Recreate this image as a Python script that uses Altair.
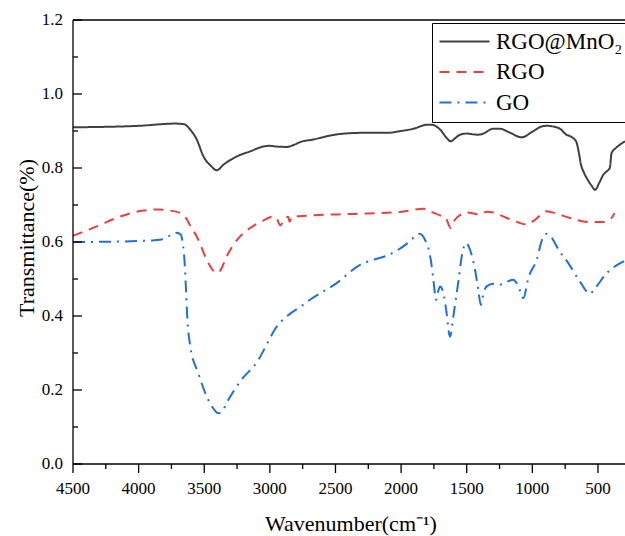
import altair as alt
import pandas as pd

# FTIR spectra: wavenumber (cm^-1) and transmittance for each sample
series_names = ["RGO@MnO₂", "RGO", "GO"]
series_colors = ["#404040", "#f03c3c", "#1f6fe0"]
series_dashes = [[1, 0], [10, 7], [12, 6, 2, 6]]

mno2_wn = [4500, 4000, 3720, 3650, 3610, 3557, 3507, 3450, 3405, 3350, 3253, 3150,
           3050, 3000, 2950, 2872, 2820, 2770, 2669, 2550, 2465, 2300, 2110, 2000,
           1907, 1800, 1770, 1703, 1650, 1622, 1590, 1551, 1500, 1420, 1380, 1300,
           1246, 1180, 1081, 1000, 930, 891, 840, 789, 740, 713, 680, 662, 645, 630,
           610, 586, 550, 522, 490, 459, 430, 410, 396, 360, 294]
mno2_t = [0.910, 0.914, 0.920, 0.918, 0.905, 0.877, 0.832, 0.806, 0.794, 0.810, 0.831, 0.845,
          0.858, 0.860, 0.858, 0.857, 0.862, 0.870, 0.877, 0.887, 0.892, 0.895, 0.895, 0.900,
          0.906, 0.917, 0.917, 0.904, 0.880, 0.872, 0.880, 0.890, 0.893, 0.890, 0.892, 0.906,
          0.906, 0.897, 0.883, 0.898, 0.912, 0.914, 0.912, 0.906, 0.890, 0.886, 0.878, 0.868, 0.840, 0.810,
          0.790, 0.773, 0.753, 0.741, 0.760, 0.782, 0.792, 0.800, 0.841, 0.855, 0.872]

rgo_wn = [4500, 4300, 4170, 3964, 3850, 3761, 3680, 3640, 3600, 3557, 3481, 3430,
          3405, 3380, 3329, 3227, 3150, 3050, 2974, 2950, 2920, 2890, 2860, 2850,
          2830, 2719, 2364, 2008, 1831, 1760, 1703, 1660, 1622, 1590, 1540, 1500,
          1399, 1348, 1300, 1195, 1100, 1043, 980, 891, 850, 713, 620, 561, 459,
          420, 388, 375]
rgo_t = [0.617, 0.645, 0.665, 0.685, 0.688, 0.685, 0.678, 0.665, 0.640, 0.615, 0.552, 0.522,
         0.516, 0.522, 0.561, 0.615, 0.638, 0.658, 0.669, 0.665, 0.645, 0.662, 0.668, 0.655,
         0.668, 0.671, 0.676, 0.681, 0.690, 0.680, 0.672, 0.665, 0.638, 0.660, 0.675, 0.680,
         0.674, 0.682, 0.680, 0.665, 0.652, 0.647, 0.660, 0.683, 0.680, 0.665, 0.656, 0.654, 0.654,
         0.660, 0.669, 0.678]

go_wn = [4500, 4200, 3914, 3837, 3780, 3710, 3680, 3665, 3650, 3639, 3629, 3608,
         3545, 3469, 3420, 3393, 3360, 3317, 3227, 3088, 3012, 2960, 2900, 2868,
         2747, 2694, 2491, 2313, 2200, 2110, 1958, 1900, 1861, 1818, 1790, 1774,
         1754, 1734, 1715, 1703, 1690, 1678, 1657, 1627, 1602, 1564, 1538, 1505,
         1475, 1437, 1412, 1393, 1370, 1348, 1297, 1250, 1145, 1107, 1069, 1031,
         967, 921, 891, 852, 802, 726, 637, 561, 522, 433, 319, 294]
go_t = [0.600, 0.601, 0.604, 0.606, 0.614, 0.625, 0.620, 0.600, 0.547, 0.471, 0.394, 0.322,
        0.245, 0.173, 0.145, 0.137, 0.145, 0.173, 0.223, 0.281, 0.331, 0.365, 0.390, 0.400,
        0.430, 0.444, 0.489, 0.538, 0.553, 0.563, 0.595, 0.613, 0.622, 0.606, 0.580, 0.552,
        0.498, 0.444, 0.470, 0.480, 0.475, 0.462, 0.417, 0.344, 0.399, 0.493, 0.561, 0.597,
        0.579, 0.525, 0.471, 0.430, 0.465, 0.480, 0.487, 0.485, 0.498, 0.480, 0.448, 0.502,
        0.552, 0.611, 0.622, 0.611, 0.580, 0.543, 0.493, 0.460, 0.475, 0.516, 0.545, 0.550]

x_major = list(range(4500, 499, -500))
x_minor = list(range(4250, 499, -500))
x_labels = [str(v) for v in x_major]
y_major = [0.0, 0.2, 0.4, 0.6, 0.8, 1.0, 1.2]
y_minor = [0.1, 0.3, 0.5, 0.7, 0.9, 1.1]
y_labels = [f"{v:.1f}" for v in y_major]
x_title = "Wavenumber(cm⁻¹)"
y_title = "Transmittance(%)"

rows = []
for name, wns, ts in zip(series_names, [mno2_wn, rgo_wn, go_wn], [mno2_t, rgo_t, go_t]):
    rows += [{"series": name, "wn": w, "t": v} for w, v in zip(wns, ts)]
df = pd.DataFrame(rows)

W, H = 552, 444
FONT = "Liberation Serif"
MAJOR, MINOR = 9, 5

x_scale = alt.Scale(domain=[4500, 294], nice=False, zero=False)
y_scale = alt.Scale(domain=[0, 1.2], nice=False, zero=False)

legend = alt.Legend(
    title=None, orient="none", legendX=359, legendY=3,
    strokeColor="black", fillColor="white", padding=7,
    labelFont=FONT, labelFontSize=23, labelColor="black", labelLimit=0,
    symbolType="M-2.5,0H2.5", symbolSize=400, symbolStrokeWidth=2,
    symbolOffset=14, labelOffset=20, rowPadding=6.5,
)

lines = alt.Chart(df).mark_line(strokeWidth=2, clip=True, interpolate="monotone").encode(
    x=alt.X("wn:Q", scale=x_scale, axis=None),
    y=alt.Y("t:Q", scale=y_scale, axis=None),
    color=alt.Color("series:N", scale=alt.Scale(domain=series_names, range=series_colors), legend=legend),
    strokeDash=alt.StrokeDash("series:N", scale=alt.Scale(domain=series_names, range=series_dashes), legend=legend),
    order=alt.Order("wn:Q", sort="descending"),
)

frame_style = dict(color="black", strokeWidth=1.3)


def x_ticks(values, length):
    # outward ticks under the wavenumber axis
    return alt.Chart(pd.DataFrame({"v": values})).mark_rule(**frame_style).encode(
        x=alt.X("v:Q", scale=x_scale, axis=None),
        y=alt.value(H), y2=alt.value(H + length))


def y_ticks(values, length):
    # inward ticks along the transmittance axis
    return alt.Chart(pd.DataFrame({"v": values})).mark_rule(**frame_style).encode(
        y=alt.Y("v:Q", scale=y_scale, axis=None),
        x=alt.value(0), x2=alt.value(length))


# frame: left and bottom axis lines plus the top border
left_line = alt.Chart(pd.DataFrame({"v": [0]})).mark_rule(**frame_style).encode(
    x=alt.value(0), y=alt.value(0), y2=alt.value(H))
bottom_line = alt.Chart(pd.DataFrame({"v": [0]})).mark_rule(**frame_style).encode(
    y=alt.value(H), x=alt.value(0), x2=alt.value(W))
top_line = alt.Chart(pd.DataFrame({"v": [y_major[-1]]})).mark_rule(**frame_style).encode(
    y=alt.Y("v:Q", scale=y_scale, axis=None), x=alt.value(0), x2=alt.value(W))

# tick labels
x_tick_text = alt.Chart(pd.DataFrame({"v": x_major, "label": x_labels})).mark_text(
    font=FONT, fontSize=17, color="black", align="center", baseline="top"
).encode(x=alt.X("v:Q", scale=x_scale, axis=None), y=alt.value(H + 16.5), text="label:N")

y_tick_text = alt.Chart(pd.DataFrame({"v": y_major, "label": y_labels})).mark_text(
    font=FONT, fontSize=17, color="black", align="right", baseline="middle"
).encode(y=alt.Y("v:Q", scale=y_scale, axis=None), x=alt.value(-10), text="label:N")

# axis titles
x_title_text = alt.Chart(pd.DataFrame({"label": [x_title]})).mark_text(
    font=FONT, fontSize=22, color="black", align="center", baseline="alphabetic"
).encode(x=alt.value(278), y=alt.value(H + 67), text="label:N")

y_title_text = alt.Chart(pd.DataFrame({"label": [y_title]})).mark_text(
    font=FONT, fontSize=22, color="black", align="center", baseline="alphabetic", angle=270
).encode(x=alt.value(-39), y=alt.value(218), text="label:N")

chart = alt.layer(
    lines,
    x_ticks(x_major, MAJOR), x_ticks(x_minor, MINOR),
    y_ticks(y_major, MAJOR), y_ticks(y_minor, MINOR),
    left_line, bottom_line, top_line,
    x_tick_text, y_tick_text, x_title_text, y_title_text,
).properties(
    width=W, height=H,
    padding={"left": 73, "top": 20, "right": 0, "bottom": 72},
    autosize=alt.AutoSizeParams(type="none"),
).configure_view(stroke=None)

chart.save("out.html", embed_options={"renderer": "svg", "actions": False})
